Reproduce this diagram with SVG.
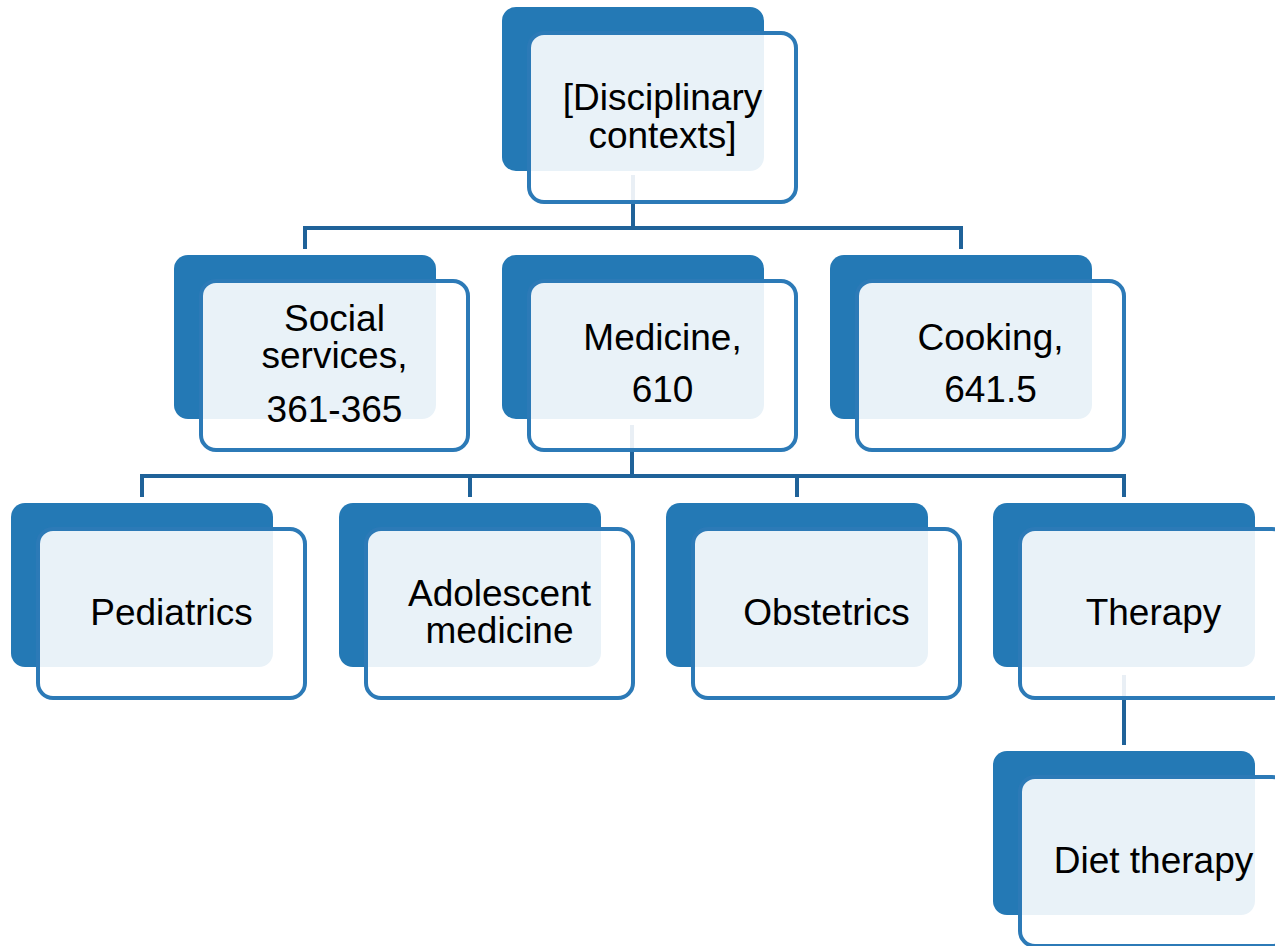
<svg xmlns="http://www.w3.org/2000/svg" width="1275" height="946" viewBox="0 0 1275 946">
<style>
.bk{fill:#2479B5;}
.fr{fill:#FFFFFF;fill-opacity:0.9;stroke:#2C7AB7;stroke-width:4;}
.cn{fill:none;stroke:#1F6299;stroke-width:4;}
text{font-family:"Liberation Sans",Arial,sans-serif;font-size:37px;fill:#000;text-anchor:middle;}
</style>
<rect width="1275" height="946" fill="#FFFFFF"/>
<g id="connectors">
<path class="cn" d="M305,249 V228 H961 V249 M633,175 V228"/>
<path class="cn" d="M142,497 V476 H1124 V497 M470,476 V497 M797,476 V497 M632,425 V476"/>
<path class="cn" d="M1124,675 V745"/>
</g>
<g id="n-disciplinary">
<rect class="bk" x="502" y="7" width="262" height="164" rx="14"/>
<rect class="fr" x="529" y="33" width="267" height="169" rx="15"/>
<text x="662.5" y="110">[Disciplinary</text>
<text x="662.5" y="148">contexts]</text>
</g>
<g id="n-social">
<rect class="bk" x="174" y="255" width="262" height="164" rx="14"/>
<rect class="fr" x="201" y="281" width="267" height="169" rx="15"/>
<text x="334.5" y="331">Social</text>
<text x="334.5" y="368">services,</text>
<text x="334.5" y="422">361-365</text>
</g>
<g id="n-medicine">
<rect class="bk" x="502" y="255" width="262" height="164" rx="14"/>
<rect class="fr" x="529" y="281" width="267" height="169" rx="15"/>
<text x="662.5" y="350">Medicine,</text>
<text x="662.5" y="402">610</text>
</g>
<g id="n-cooking">
<rect class="bk" x="830" y="255" width="262" height="164" rx="14"/>
<rect class="fr" x="857" y="281" width="267" height="169" rx="15"/>
<text x="990.5" y="350">Cooking,</text>
<text x="990.5" y="402">641.5</text>
</g>
<g id="n-pediatrics">
<rect class="bk" x="11" y="503" width="262" height="164" rx="14"/>
<rect class="fr" x="38" y="529" width="267" height="169" rx="15"/>
<text x="171.5" y="625">Pediatrics</text>
</g>
<g id="n-adolescent">
<rect class="bk" x="339" y="503" width="262" height="164" rx="14"/>
<rect class="fr" x="366" y="529" width="267" height="169" rx="15"/>
<text x="499.5" y="606">Adolescent</text>
<text x="499.5" y="643">medicine</text>
</g>
<g id="n-obstetrics">
<rect class="bk" x="666" y="503" width="262" height="164" rx="14"/>
<rect class="fr" x="693" y="529" width="267" height="169" rx="15"/>
<text x="826.5" y="625">Obstetrics</text>
</g>
<g id="n-therapy">
<rect class="bk" x="993" y="503" width="262" height="164" rx="14"/>
<rect class="fr" x="1020" y="529" width="267" height="169" rx="15"/>
<text x="1153.5" y="625">Therapy</text>
</g>
<g id="n-diet">
<rect class="bk" x="993" y="751" width="262" height="164" rx="14"/>
<rect class="fr" x="1020" y="777" width="267" height="169" rx="15"/>
<text x="1153.5" y="873">Diet therapy</text>
</g>
</svg>
